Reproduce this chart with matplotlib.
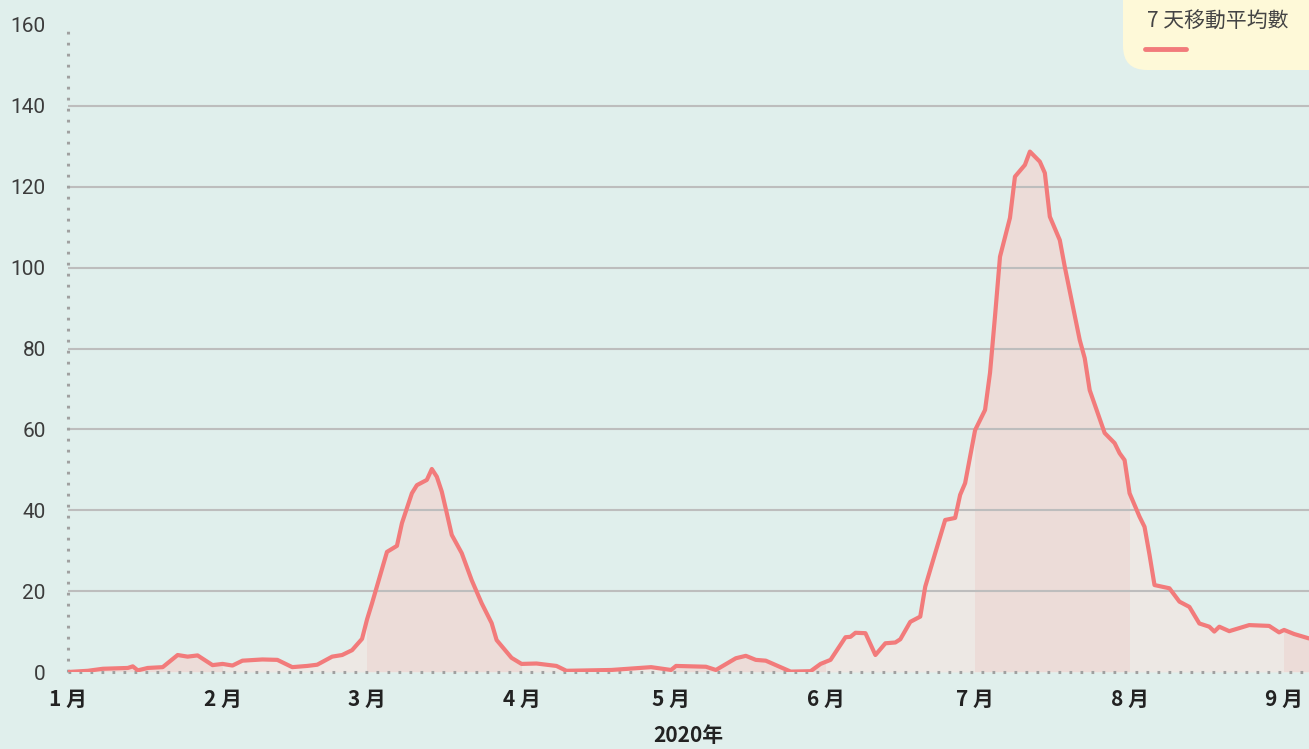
import matplotlib
matplotlib.use('Agg')
import matplotlib.pyplot as plt
import pandas as pd
from matplotlib.patches import FancyBboxPatch
from matplotlib.lines import Line2D
from matplotlib.transforms import IdentityTransform

# 7-day moving average
dates = ['2020-01-01', '2020-01-05', '2020-01-08', '2020-01-13', '2020-01-14',
         '2020-01-15', '2020-01-17', '2020-01-20', '2020-01-23', '2020-01-25',
         '2020-01-27', '2020-01-30', '2020-02-01', '2020-02-03', '2020-02-05',
         '2020-02-09', '2020-02-12', '2020-02-15', '2020-02-18', '2020-02-20',
         '2020-02-23', '2020-02-25', '2020-02-27', '2020-02-29', '2020-03-01',
         '2020-03-02', '2020-03-05', '2020-03-07', '2020-03-08', '2020-03-10',
         '2020-03-11', '2020-03-13', '2020-03-14', '2020-03-15', '2020-03-16',
         '2020-03-17', '2020-03-18', '2020-03-20', '2020-03-22', '2020-03-24',
         '2020-03-26', '2020-03-27', '2020-03-30', '2020-04-01', '2020-04-04',
         '2020-04-08', '2020-04-10', '2020-04-19', '2020-04-27', '2020-05-01',
         '2020-05-02', '2020-05-08', '2020-05-10', '2020-05-14', '2020-05-16',
         '2020-05-18', '2020-05-20', '2020-05-25', '2020-05-29', '2020-05-31',
         '2020-06-02', '2020-06-05', '2020-06-06', '2020-06-07', '2020-06-09',
         '2020-06-11', '2020-06-13', '2020-06-15', '2020-06-16', '2020-06-18',
         '2020-06-20', '2020-06-21', '2020-06-23', '2020-06-25', '2020-06-27',
         '2020-06-28', '2020-06-29', '2020-07-01', '2020-07-03', '2020-07-04',
         '2020-07-05', '2020-07-06', '2020-07-08', '2020-07-09', '2020-07-11',
         '2020-07-12', '2020-07-14', '2020-07-15', '2020-07-16', '2020-07-18',
         '2020-07-19', '2020-07-22', '2020-07-23', '2020-07-24', '2020-07-27',
         '2020-07-29', '2020-07-30', '2020-07-31', '2020-08-01', '2020-08-03',
         '2020-08-04', '2020-08-05', '2020-08-06', '2020-08-09', '2020-08-11',
         '2020-08-13', '2020-08-15', '2020-08-17', '2020-08-18', '2020-08-19',
         '2020-08-21', '2020-08-25', '2020-08-29', '2020-08-31', '2020-09-01',
         '2020-09-03', '2020-09-06']
values = [0.0, 0.3, 0.8, 1.0, 1.4,
          0.4, 1.0, 1.2, 4.2, 3.8,
          4.1, 1.7, 2.0, 1.6, 2.8,
          3.1, 3.0, 1.2, 1.5, 1.8,
          3.8, 4.2, 5.4, 8.2, 13.0,
          17.0, 29.7, 31.2, 36.8, 44.2,
          46.2, 47.5, 50.2, 48.3, 44.6,
          39.3, 33.9, 29.4, 22.7, 17.0,
          12.1, 7.9, 3.5, 2.0, 2.1,
          1.5, 0.3, 0.5, 1.2, 0.5,
          1.5, 1.3, 0.5, 3.4, 4.0,
          3.0, 2.8, 0.1, 0.2, 2.0,
          3.0, 8.6, 8.7, 9.7, 9.6,
          4.2, 7.1, 7.3, 8.1, 12.4,
          13.7, 21.1, 29.4, 37.6, 38.1,
          43.8, 46.7, 59.8, 64.8, 74.0,
          88.0, 102.7, 112.3, 122.5, 125.4,
          128.7, 126.2, 123.4, 112.6, 106.8,
          100.2, 82.1, 77.6, 69.7, 59.1,
          56.6, 54.1, 52.4, 44.2, 38.4,
          35.9, 29.0, 21.5, 20.7, 17.4,
          16.1, 12.0, 11.2, 10.0, 11.2,
          10.1, 11.6, 11.4, 9.8, 10.4,
          9.4, 8.3]
month_labels = ['1 月', '2 月', '3 月', '4 月', '5 月', '6 月', '7 月', '8 月', '9 月']
y_ticks = [0, 20, 40, 60, 80, 100, 120, 140, 160]
x_title = '2020年'
legend_label = '7 天移動平均數'

BG = '#e0efec'
LINE = '#f27b7b'
FILL_LIGHT = '#ede8e4'
FILL_DARK = '#ecdcd8'
CJK = ['Noto Sans CJK TC', 'DejaVu Sans']

W, H = 1309, 749
fig = plt.figure(figsize=(W / 100, H / 100), dpi=100)
fig.patch.set_facecolor(BG)
ax = fig.add_axes([68 / W, 1 - 672 / H, 1 - 68 / W, (672 - 25) / H])
ax.set_facecolor(BG)

x = pd.to_datetime(dates)
fill = ax.fill_between(x, values, 0, color=FILL_LIGHT, lw=0, zorder=1)
clip = fill.get_paths()[0]
month_starts = pd.date_range('2020-01-01', '2020-10-01', freq='MS')
for i in range(0, len(month_starts) - 1, 2):
    band = ax.axvspan(month_starts[i], month_starts[i + 1], color=FILL_DARK,
                      lw=0, zorder=1.1)
    band.set_clip_path(clip, fill.get_transform())

for v in y_ticks[1:-1]:
    ax.axhline(v, color='#bdbdbd', lw=1.5, zorder=2)

ax.plot(x, values, color=LINE, lw=3, zorder=3, solid_joinstyle='round',
        solid_capstyle='round')

ax.set_xlim(x[0], x[-1])
ax.set_ylim(y_ticks[0], y_ticks[-1])

for side in ['top', 'right']:
    ax.spines[side].set_visible(False)
for side in ['left', 'bottom']:
    ax.spines[side].set_linestyle((0, (0.9, 2.7)))
    ax.spines[side].set_linewidth(2.2)
    ax.spines[side].set_capstyle('butt')
    ax.spines[side].set_color('#a0a0a0')

ax.set_yticks(y_ticks)
ax.set_yticklabels([str(v) for v in y_ticks], fontsize=15,
                   family=['Roboto', 'DejaVu Sans'], fontweight='normal',
                   color='#3c3c3c')
ax.set_xticks(month_starts[:len(month_labels)])
ax.set_xticklabels(month_labels, fontsize=15, family=CJK, fontweight='bold',
                   color='#222222')
ax.tick_params(axis='y', length=0, pad=16)
ax.tick_params(axis='x', length=0, pad=12)
ax.set_xlabel(x_title, fontsize=15, family=CJK, fontweight='bold',
              color='#222222', labelpad=11)

# legend box, top right
box = FancyBboxPatch((1123, H - 70), 260, 120,
                     boxstyle='round,pad=0,rounding_size=24',
                     transform=IdentityTransform(), fc='#fef9d8', ec='none')
fig.add_artist(box)
fig.text(1147 / W, 1 - 21 / H, legend_label, fontsize=15, family=CJK,
         color='#444444', va='center', ha='left')
fig.add_artist(Line2D([1145 / W, 1186 / W], [1 - 49 / H, 1 - 49 / H],
                      transform=fig.transFigure, color=LINE, lw=3.5,
                      solid_capstyle='round'))

fig.savefig('out.png', dpi=100, facecolor=BG)
plt.close(fig)
